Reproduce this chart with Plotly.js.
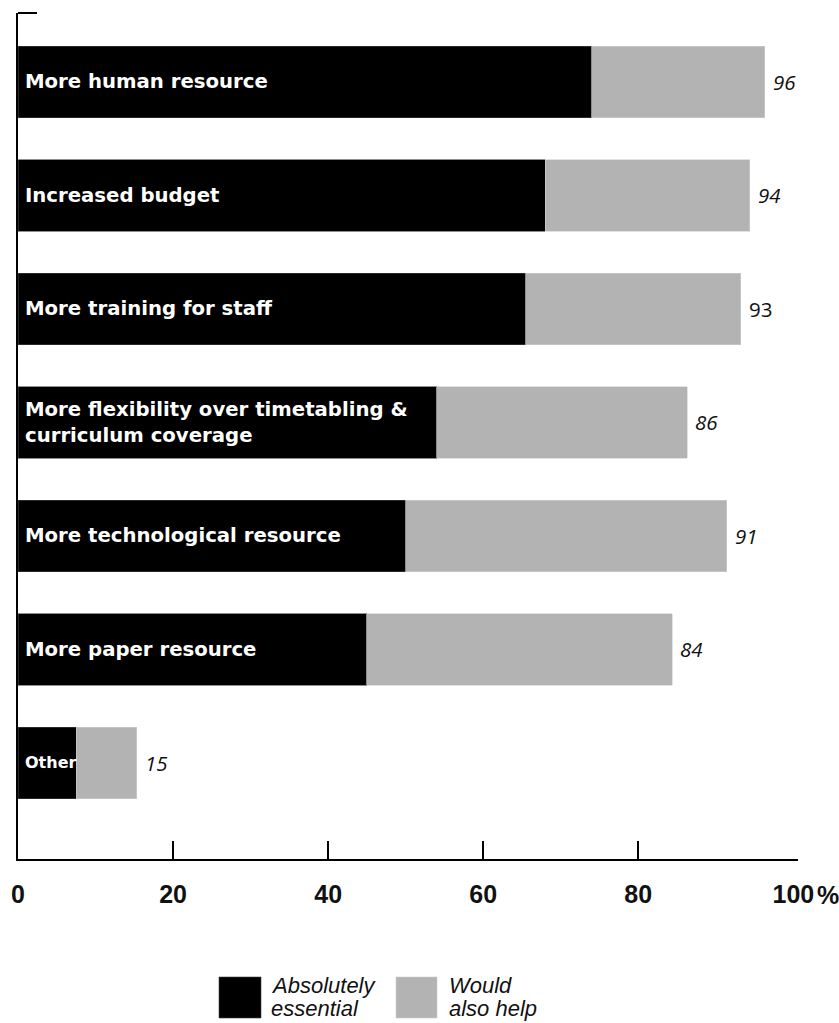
<!DOCTYPE html>
<html>
<head>
<meta charset="utf-8">
<script src="https://cdn.plot.ly/plotly-3.0.1.min.js"></script>
<style>
  html, body { margin: 0; padding: 0; background: #fff; }
  #chart { width: 839px; height: 1023px; }
</style>
</head>
<body>
<div id="chart"></div>
<script>
// ---------- DATA ----------
const categories = [
  'More human resource',
  'Increased budget',
  'More training for staff',
  'More flexibility over timetabling &<br>curriculum coverage',
  'More technological resource',
  'More paper resource',
  'Other'
];
const essential = [74, 68, 65.5, 54, 50, 45, 7.5];
const alsoHelp  = [22.3, 26.4, 27.7, 32.3, 41.4, 39.4, 7.8];
const totalLabels = ['96', '94', '93', '86', '91', '84', '15'];
const seriesNames = ['Absolutely<br>essential', 'Would<br>also help'];
const xTickVals = [0, 20, 40, 60, 80, 100];
const xTickText = ['0', '20', '40', '60', '80', '100'];
const xMinorTicks = [20, 40, 60, 80];
const unitSuffix = '%';

// ---------- STYLE / LAYOUT ----------
const W = 839, H = 1023;
const M = { l: 18, r: 41, t: 13, b: 164 };
const plotW = W - M.l - M.r, plotH = H - M.t - M.b;
const px2x = p => (p - M.l) / plotW;          // pixel -> paper x
const px2y = p => (H - M.b - p) / plotH;      // pixel -> paper y
const colors = ['#000000', '#b3b3b3'];
const uprightValue = new Set([2]);
const smallLabel = new Set([6]);

const traces = [
  {
    type: 'bar', orientation: 'h', name: seriesNames[0],
    y: categories, x: essential, width: 0.63,
    marker: { color: colors[0], line: { color: '#444', width: 0.6 } },
    hoverinfo: 'skip'
  },
  {
    type: 'bar', orientation: 'h', name: seriesNames[1],
    y: categories, x: alsoHelp, width: 0.63,
    marker: { color: colors[1], line: { color: '#cfcfcf', width: 0.6 } },
    hoverinfo: 'skip'
  }
];

const annotations = [];
categories.forEach((c, i) => {
  annotations.push({
    x: 0, y: c, xref: 'x', yref: 'y', xanchor: 'left', yanchor: 'middle',
    xshift: 5, text: c, showarrow: false, align: 'left',
    font: { family: 'DejaVu Sans', size: smallLabel.has(i) ? 16 : 19.7, color: '#ffffff', weight: 'bold' }
  });
  annotations.push({
    x: essential[i] + alsoHelp[i], y: c, xref: 'x', yref: 'y',
    xanchor: 'left', yanchor: 'middle', xshift: 6,
    text: totalLabels[i], showarrow: false,
    font: { family: 'Open Sans', size: 20.5, color: '#111',
            style: uprightValue.has(i) ? 'normal' : 'italic' }
  });
});

// percent sign after the 100 tick label
annotations.push({
  x: 100, y: 0, xref: 'x', yref: 'paper', xanchor: 'left', yanchor: 'top',
  xshift: 22, yshift: -20, text: unitSuffix, showarrow: false,
  font: { family: 'Liberation Sans', size: 25, color: '#111', weight: 'bold' }
});

// legend (custom, large swatches)
const shapes = [
  { type: 'line', xref: 'paper', yref: 'paper', x0: 0, x1: px2x(37), y0: 1, y1: 1,
    line: { color: '#000', width: 2 } }
];
const legendBoxes = [[219, 261], [396, 437]];
const legendTextX = [269, 447];
seriesNames.forEach((n, k) => {
  shapes.push({
    type: 'rect', xref: 'paper', yref: 'paper',
    x0: px2x(legendBoxes[k][0]), x1: px2x(legendBoxes[k][1]),
    y0: px2y(1018), y1: px2y(977),
    fillcolor: colors[k], line: { color: k === 0 ? '#444' : '#cfcfcf', width: 0.6 }
  });
  n.split('<br>').forEach((line, j) => {
    annotations.push({
      x: px2x(legendTextX[k]), y: px2y(j === 0 ? 985 : 1008),
      xref: 'paper', yref: 'paper', xanchor: 'left', yanchor: 'middle',
      text: line, showarrow: false,
      font: { family: 'Liberation Sans', size: 22, color: '#111', style: 'italic' }
    });
  });
});

const layout = {
  width: W, height: H,
  margin: M,
  paper_bgcolor: '#fff', plot_bgcolor: '#fff',
  barmode: 'stack', showlegend: false,
  xaxis: {
    range: [0, 100.6], showgrid: false, zeroline: false,
    showline: true, linecolor: '#000', linewidth: 2,
    tickmode: 'array', tickvals: xTickVals, ticktext: xTickText,
    ticks: '', ticklabelstandoff: 12,
    tickfont: { family: 'Liberation Sans', size: 25, color: '#111', weight: 'bold' },
    minor: { tickmode: 'array', tickvals: xMinorTicks, ticks: 'inside', ticklen: 18,
             tickwidth: 2, tickcolor: '#000', showgrid: false }
  },
  yaxis: {
    type: 'category', categoryorder: 'array', categoryarray: categories,
    range: [6.848, -0.606], showgrid: false, zeroline: false,
    showline: true, linecolor: '#000', linewidth: 2,
    showticklabels: false, ticks: ''
  },
  annotations: annotations,
  shapes: shapes
};

Plotly.newPlot('chart', traces, layout, { displayModeBar: false, staticPlot: true });
</script>
</body>
</html>
